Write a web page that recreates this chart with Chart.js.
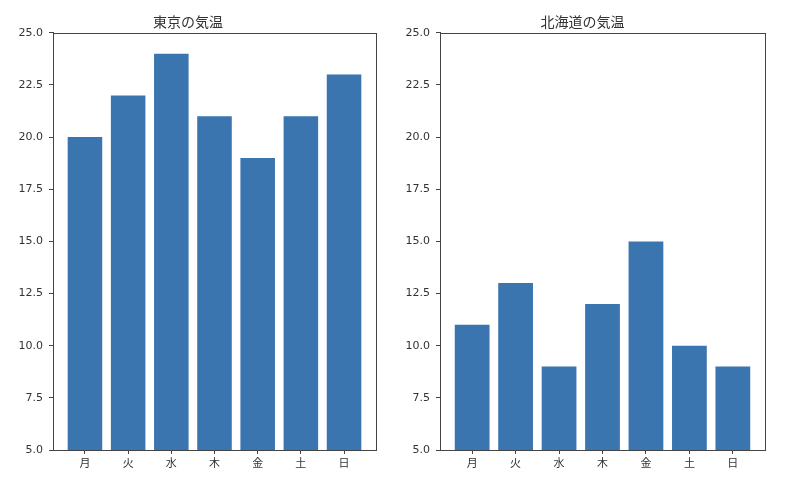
<!DOCTYPE html>
<html>
<head>
<meta charset="utf-8">
<script src="https://cdn.jsdelivr.net/npm/chart.js@4"></script>
<style>
  html, body { margin: 0; padding: 0; background: #fff; }
  #wrap { position: relative; width: 800px; height: 487px; }
  .box { position: absolute; top: 0; height: 487px; }
</style>
</head>
<body>
<div id="wrap">
  <div class="box" style="left:0;width:400px"><canvas id="c1"></canvas></div>
  <div class="box" style="left:400px;width:400px"><canvas id="c2"></canvas></div>
</div>
<script>
const categories = ['月', '火', '水', '木', '金', '土', '日'];
const tokyoTemps = [20, 22, 24, 21, 19, 21, 23];
const hokkaidoTemps = [11, 13, 9, 12, 15, 10, 9];
const titles = ['東京の気温', '北海道の気温'];
const yTicks = [5, 7.5, 10, 12.5, 15, 17.5, 20, 22.5, 25];

const FONT = "'DejaVu Sans', 'Noto Sans CJK JP', sans-serif";
const TITLE_FONT = "'Noto Sans CJK JP', sans-serif";
const INK = '#333333';
const AXIS = '#444444';
const BAR = '#3a75af';

const frame = {
  id: 'frame',
  afterDraw(chart) {
    const a = chart.chartArea, ctx = chart.ctx;
    ctx.save();
    ctx.strokeStyle = AXIS;
    ctx.lineWidth = 1;
    ctx.strokeRect(Math.round(a.left) + 0.5, Math.round(a.top) + 0.5,
                   Math.round(a.right - a.left), Math.round(a.bottom - a.top));
    ctx.restore();
  }
};

function makeChart(id, title, values, yWidth, padRight) {
  const points = values.map((v, i) => ({ x: i, y: v }));
  return new Chart(document.getElementById(id), {
    type: 'bar',
    data: {
      datasets: [{
        data: points,
        backgroundColor: BAR,
        borderWidth: 0,
        categoryPercentage: 0.8,
        barPercentage: 1.0
      }]
    },
    options: {
      responsive: true,
      maintainAspectRatio: false,
      animation: false,
      layout: { padding: { left: 0, right: padRight, top: 0, bottom: 0 } },
      plugins: {
        legend: { display: false },
        tooltip: { enabled: false },
        title: {
          display: true,
          text: title,
          color: INK,
          font: { family: TITLE_FONT, size: 14, weight: 'normal', lineHeight: 1.2 },
          padding: { top: 13, bottom: 3 }
        }
      },
      scales: {
        x: {
          type: 'linear',
          min: -0.74,
          max: 6.74,
          offset: false,
          afterBuildTicks(scale) {
            scale.ticks = categories.map((c, i) => ({ value: i }));
          },
          afterFit(scale) { scale.height = 37; },
          ticks: {
            autoSkip: false,
            maxRotation: 0,
            color: INK,
            padding: 2,
            font: { family: TITLE_FONT, size: 11 },
            callback: (v) => categories[v]
          },
          grid: { display: true, offset: false, drawOnChartArea: false, drawTicks: true, tickLength: 4, color: AXIS },
          border: { display: true, color: AXIS, width: 1 }
        },
        y: {
          min: 5,
          max: 25,
          afterBuildTicks(scale) {
            scale.ticks = yTicks.map(v => ({ value: v }));
          },
          afterFit(scale) { scale.width = yWidth; },
          ticks: {
            color: INK,
            padding: 6,
            font: { family: FONT, size: 11 },
            callback: (v) => Number(v).toFixed(1)
          },
          grid: { display: true, offset: false, drawOnChartArea: false, drawTicks: true, tickLength: 4, color: AXIS },
          border: { display: true, color: AXIS, width: 1 }
        }
      }
    },
    plugins: [frame]
  });
}

makeChart('c1', titles[0], tokyoTemps, 53, 24);
makeChart('c2', titles[1], hokkaidoTemps, 40, 35);
</script>
</body>
</html>
